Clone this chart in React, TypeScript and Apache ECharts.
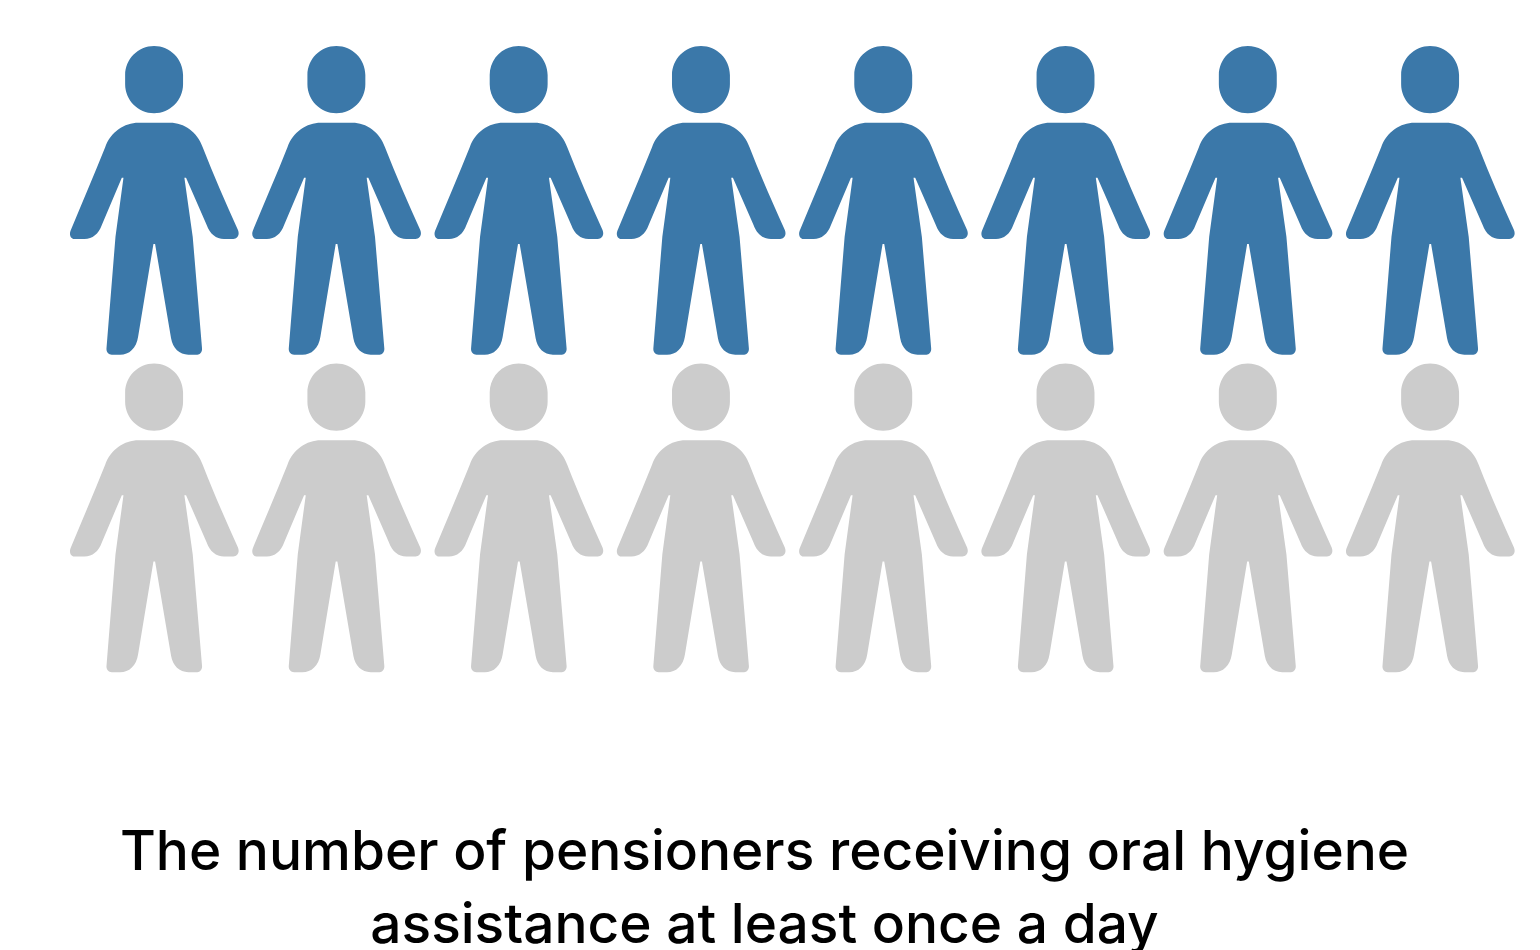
import React, { useEffect, useRef } from "react";
import * as echarts from "echarts";

const chartTitle =
  "The number of pensioners receiving oral hygiene\nassistance at least once a day";

const columns = [0, 1, 2, 3, 4, 5, 6, 7];
const assistedRow = [0, 0, 0, 0, 0, 0, 0, 0];
const otherRow = [1, 1, 1, 1, 1, 1, 1, 1];

const BLUE = "#3b78a9";
const GREY = "#cccccc";

// Standing figure: rounded head plus a body with arms and legs.
const PERSON =
  "path://M195 105 C195 57 234 18 282 18 C330 18 369 57 369 105 L369 133 C369 181 330 220 282 220 C234 220 195 181 195 133 Z " +
  "M235 248 L330 248 C372 248 412 275 428 322 C460 405 498 490 534 570 C540 585 532 597 520 597 L492 597 C468 597 450 582 440 555 L378 413 L373 413 L398 590 L426 925 C427 937 420 944 412 944 L385 944 C358 944 338 925 333 895 L285 612 L280 612 L234 890 C229 925 207 944 180 944 L155 944 C145 944 138 937 139 925 L166 590 L190 413 L185 413 L125 555 C115 582 97 597 73 597 L42 597 C32 597 26 585 31 572 C65 490 102 405 135 322 C151 275 193 248 235 248 Z";

const rowSeries = (values: number[], color: string) => ({
  type: "scatter" as const,
  clip: false,
  symbol: PERSON,
  symbolSize: [168.7, 308.7],
  itemStyle: { color, opacity: 1 },
  silent: true,
  data: columns.map((c, i) => [c, values[i]]),
});

export default function App() {
  const ref = useRef<HTMLDivElement>(null);

  useEffect(() => {
    if (!ref.current) return;
    const chart = echarts.init(ref.current, undefined, { renderer: "svg" });
    chart.setOption({
      animation: false,
      backgroundColor: "#ffffff",
      title: {
        text: chartTitle,
        left: 764.5,
        top: 813,
        textAlign: "center",
        padding: 0,
        textStyle: {
          fontFamily: "Inter",
          fontSize: 55,
          fontWeight: 500,
          lineHeight: 73,
          color: "#000000",
        },
      },
      grid: { left: 154.3, top: 200.3, width: 1276, height: 317.5 },
      xAxis: { type: "value", min: 0, max: 7, show: false },
      yAxis: { type: "value", min: 0, max: 1, inverse: true, show: false },
      series: [rowSeries(assistedRow, BLUE), rowSeries(otherRow, GREY)],
    });
    return () => chart.dispose();
  }, []);

  return (
    <div
      ref={ref}
      style={{ position: "fixed", left: 0, top: 0, width: 1540, height: 950 }}
    />
  );
}
